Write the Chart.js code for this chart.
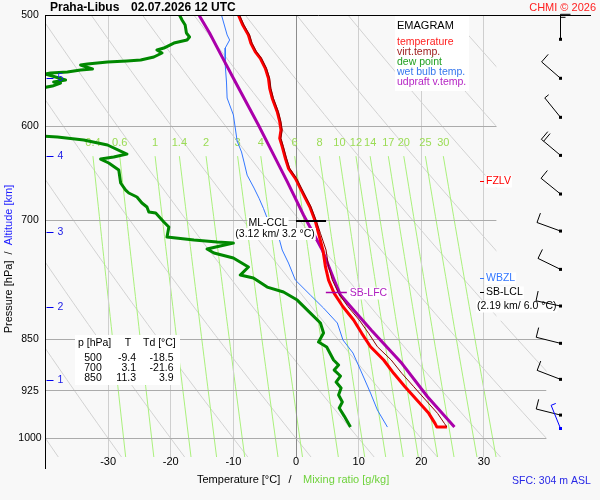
<!DOCTYPE html>
<html>
<head>
<meta charset="utf-8">
<script src="https://cdn.jsdelivr.net/npm/chart.js@4"></script>
<style>
html, body { margin: 0; padding: 0; background: #f8f8f8; }
canvas { display: block; }
</style>
</head>
<body>
<canvas id="emagram" width="600" height="500"></canvas>
<script>
/* sounding Praha-Libus 02.07.2026 12 UTC
   pressure in hPa, temperatures in degC */

// temperature and virtual temperature share the pressure levels
const tempP = [500, 508.3, 516.6, 523.7, 531, 536.7, 545.6, 554.6, 563.8, 573, 585.8, 595.4, 603.6, 611.8, 620.3, 632.2, 642.7, 653.3, 664.1, 675, 684.4, 693.7, 701.4, 714.8, 734.7, 755, 771.7, 788.7, 806.2, 823.9, 842, 860.7, 879.6, 899, 918.9, 939.2, 959.9, 975.8, 981.7];
const tempT = [-9.2, -8.5, -7.6, -7.2, -6.5, -5.7, -4.9, -4.4, -4.2, -3.8, -3.0, -2.6, -2.4, -2.6, -2.2, -1.7, -1.2, -0.1, 0.7, 1.5, 2.2, 2.7, 3.1, 3.6, 4.3, 4.7, 5.2, 6.1, 7.5, 9.2, 10.5, 11.9, 14.0, 15.6, 17.4, 19.3, 21.2, 22.2, 22.5];
const virtT = [-9.0, -8.3, -7.4, -7.0, -6.3, -5.5, -4.7, -4.2, -4.0, -3.6, -2.8, -2.4, -2.2, -2.4, -2.0, -1.5, -1.0, 0.1, 0.9, 1.7, 2.4, 2.9, 3.3, 3.9, 4.8, 5.2, 5.8, 6.8, 8.3, 10.1, 11.6, 13.0, 15.2, 16.9, 18.8, 20.7, 22.6, 23.7, 24.1];

// dew point (goes below -40 between ~565 and ~605 hPa)
const dewP = [500, 504.1, 508.3, 515.0, 518.3, 520.9, 523.5, 527.8, 529.5, 532.1, 535.6, 538.2, 539.1, 540.0, 541.8, 542.7, 546.2, 547.1, 548.9, 549.8, 550.7, 556.1, 558.0, 558.9, 561.7, 570.0, 603.6, 609.6, 610.6, 613.6, 618.6, 627.8, 630.9, 633.0, 637.1, 644.5, 658.3, 666.0, 669.2, 673.6, 680.2, 684.7, 690.4, 691.5, 701.7, 707.5, 719.2, 722.7, 725.1, 726.3, 729.8, 733.5, 738.3, 744.4, 755.4, 765.4, 769.2, 780.6, 787.0, 797.4, 814.6, 827.9, 841.6, 854.1, 861.1, 879.6, 886.9, 894.2, 903.0, 911.9, 920.9, 931.6, 942.3, 951.6, 964.2, 981.7];
const dewT = [-18.6, -18.2, -17.7, -17.5, -17.0, -17.4, -19.5, -21.1, -22.2, -21.4, -22.7, -24.8, -27.0, -30.1, -33.3, -34.4, -32.5, -34.4, -36.5, -39.2, -40.0, -36.8, -38.7, -37.6, -38.9, -47, -47, -41, -38.1, -33.9, -30.1, -27.0, -29.1, -31.2, -29.9, -28.3, -28.0, -27.2, -26.7, -25.4, -24.6, -23.8, -23.5, -22.4, -21.1, -20.3, -20.6, -16.3, -12.6, -10.0, -12.1, -14.2, -13.1, -10.0, -7.6, -8.9, -6.8, -4.6, -2.0, 0.2, 2.3, 3.9, 4.4, 3.6, 4.9, 6.0, 6.8, 6.1, 7.1, 6.4, 7.2, 6.8, 7.4, 6.9, 7.7, 8.7];

// wet bulb temperature
const wetP = [500, 516.6, 520.9, 527.8, 542.7, 558.0, 572.8, 588.9, 601.6, 614.6, 625.7, 636.1, 649.9, 663.8, 675.0, 686.2, 697.3, 706.5, 718.1, 734.7, 750.5, 771.7, 790.9, 807.9, 827.9, 851.3, 869.6, 894.2, 928.5, 954.7, 981.7];
const wetT = [-11.9, -11.0, -10.6, -11.3, -11.3, -11.1, -11.0, -10.0, -9.7, -9.4, -8.7, -8.3, -7.8, -6.7, -5.9, -5.2, -4.6, -3.9, -2.8, -2.2, -1.2, -0.1, 2.3, 4.4, 6.6, 7.5, 9.1, 10.3, 11.9, 13.0, 14.6];

// surface based updraft (virtual temperature)
const parcelP = [500, 515, 532.4, 557.7, 598.7, 622, 656.9, 693.7, 734.7, 771.7, 790.9, 837.5, 884.4, 934.1, 981.7];
const parcelT = [-15.5, -13.8, -12.1, -9.7, -6.0, -4.1, -1.4, 1.2, 4.2, 6.1, 7.1, 12.0, 16.9, 21.0, 25.3];

// wind: direction in deg, speed in kt
const windP = [520.3, 554.6, 591.2, 629.2, 670.3, 712.2, 758.3, 805.2, 855.9, 907.9, 962.6, 984];
const windDir = [360, 311, 321, 310, 309, 290, 296, 282, 284, 291, 284, 338];
const windSpd = [15, 10, 5, 20, 10, 10, 10, 10, 10, 10, 10, 5];

// axes / background lines
const pressTicks = [500, 600, 700, 850, 925, 1000];
const tempTicks = [-30, -20, -10, 0, 10, 20, 30];
const altKm = [1, 2, 3, 4, 5];
const altP = [908.9, 806.1, 712.9, 629.6, 554.6];
const mixRatios = [0.4, 0.6, 1, 1.4, 2, 3, 4, 6, 8, 10, 12, 14, 17, 20, 25, 30];
const thetas = [-40, -30, -20, -10, 0, 10, 20, 30, 40, 50, 60, 70, 80, 90, 100];

// levels marked on the right
const levelNames = ['FZLV', 'WBZL', 'SB-LCL'];
const levelP = [655.8, 769.5, 787];
const levelColors = ['#ff0000', '#3377ff', '#000000'];
const lclText = '(2.19 km/ 6.0 °C)';
const lfcP = 787, lfcT = 7.0;
const cclP = 701, cclT = 3.2, cclText = '(3.12 km/ 3.2 °C)';

// table
const tabP = [500, 700, 850];
const tabT = [-9.4, 3.1, 11.3];
const tabTd = [-18.5, -21.6, 3.9];

const legendNames = ['temperature', 'virt.temp.', 'dew point', 'wet bulb temp.', 'udpraft v.temp.'];
const legendColors = ['#ff2020', '#a02020', '#20a020', '#3577ee', '#b524c4'];

const FONT = '"Liberation Sans", Arial, sans-serif';
const MIX_TOP = 630;

function pts(ps, ts) {
    return ps.map((p, i) => ({x: ts[i], y: p}));
}

// temperature where saturation mixing ratio w [g/kg] is reached at p
function tdFromMix(w, p) {
    const e = w * p / (622 + w);
    const a = Math.log(e / 6.112);
    return 243.5 * a / (17.67 - a);
}
function tFromTheta(th, p) {
    return (th + 273.15) * Math.pow(p / 1000, 0.286) - 273.15;
}

function txt(ctx, s, x, y, color, size, align, bold) {
    ctx.font = (bold ? 'bold ' : '') + size + 'px ' + FONT;
    ctx.fillStyle = color;
    ctx.textAlign = align || 'left';
    ctx.textBaseline = 'middle';
    ctx.fillText(s, x, y);
}
function boxed(ctx, s, x, y, color, size, align) {
    ctx.font = size + 'px ' + FONT;
    const w = ctx.measureText(s).width;
    const x0 = align === 'center' ? x - w / 2 : (align === 'right' ? x - w : x);
    ctx.fillStyle = '#ffffff';
    ctx.fillRect(x0 - 1, y - 6, w + 2, 12);
    txt(ctx, s, x, y, color, size, align);
}
function crisp(v) { return Math.round(v - 0.5) + 0.5; }

function drawBarb(ctx, x0, y0, dir, spd, color) {
    const r = dir * Math.PI / 180;
    const ux = Math.sin(r), uy = -Math.cos(r);
    const bx = -uy, by = ux;
    const tx = x0 + ux * 25, ty = y0 + uy * 25;
    ctx.strokeStyle = color;
    ctx.lineWidth = 1;
    ctx.beginPath();
    ctx.moveTo(x0, y0);
    ctx.lineTo(tx, ty);
    let s = spd, pos = 0;
    while (s >= 10) {
        const px = tx - ux * pos, py = ty - uy * pos;
        ctx.moveTo(px, py);
        ctx.lineTo(px + bx * 10, py + by * 10);
        s -= 10;
        pos += 3;
    }
    if (s >= 5) {
        const px = tx - ux * pos, py = ty - uy * pos;
        ctx.moveTo(px, py);
        ctx.lineTo(px + bx * 5, py + by * 5);
    }
    ctx.stroke();
    ctx.fillStyle = color;
    ctx.fillRect(x0 - 1.5, y0 - 1.5, 3, 3);
}

const gridPlugin = {
    id: 'grid',
    beforeDraw(chart) {
        const ctx = chart.ctx;
        ctx.save();
        ctx.fillStyle = '#f8f8f8';
        ctx.fillRect(0, 0, chart.width, chart.height);
        ctx.restore();
    },
    beforeDatasetsDraw(chart) {
        const {ctx, chartArea: a, scales: {x, y}} = chart;
        ctx.save();
        // upper right corner is left to the wind column
        const xc = x.getPixelForValue(32), yc = y.getPixelForValue(825);
        ctx.beginPath();
        ctx.moveTo(a.left, a.top);
        ctx.lineTo(xc, a.top);
        ctx.lineTo(xc, yc);
        ctx.lineTo(a.right, yc);
        ctx.lineTo(a.right, a.bottom);
        ctx.lineTo(a.left, a.bottom);
        ctx.closePath();
        ctx.clip();

        ctx.lineWidth = 1;
        // dry adiabats
        ctx.strokeStyle = '#d2d2d2';
        thetas.forEach(th => {
            ctx.beginPath();
            for (let i = 0; i <= 40; i++) {
                const p = y.min * Math.pow(y.max / y.min, i / 40);
                const px = x.getPixelForValue(tFromTheta(th, p)), py = y.getPixelForValue(p);
                if (i === 0) ctx.moveTo(px, py); else ctx.lineTo(px, py);
            }
            ctx.stroke();
        });
        // saturation mixing ratio lines
        ctx.strokeStyle = '#aaf07c';
        mixRatios.forEach(w => {
            ctx.beginPath();
            for (let i = 0; i <= 30; i++) {
                const p = MIX_TOP * Math.pow(y.max / MIX_TOP, i / 30);
                const px = x.getPixelForValue(tdFromMix(w, p)), py = y.getPixelForValue(p);
                if (i === 0) ctx.moveTo(px, py); else ctx.lineTo(px, py);
            }
            ctx.stroke();
        });
        // isotherms
        tempTicks.forEach(t => {
            const px = crisp(x.getPixelForValue(t));
            ctx.strokeStyle = t === 0 ? '#8c8c8c' : '#cfcfcf';
            ctx.beginPath();
            ctx.moveTo(px, a.top);
            ctx.lineTo(px, a.bottom);
            ctx.stroke();
        });
        // isobars
        ctx.strokeStyle = '#ababab';
        pressTicks.slice(1).forEach(p => {
            const py = crisp(y.getPixelForValue(p));
            ctx.beginPath();
            ctx.moveTo(a.left, py);
            ctx.lineTo(a.right, py);
            ctx.stroke();
        });
        ctx.restore();

        // mixing ratio values above their lines
        const ly = y.getPixelForValue(MIX_TOP) - 13;
        mixRatios.forEach(w => {
            txt(ctx, String(w), x.getPixelForValue(tdFromMix(w, MIX_TOP)), ly, '#9bdc55', 11, 'center');
        });
    }
};

const overlayPlugin = {
    id: 'overlay',
    afterDatasetsDraw(chart) {
        const {ctx, scales: {x, y}} = chart;
        ctx.save();
        // levels on the right side
        const xr = Math.round(x.getPixelForValue(30));
        levelNames.forEach((name, i) => {
            const py = Math.round(y.getPixelForValue(levelP[i])) + 0.5;
            ctx.strokeStyle = levelColors[i];
            ctx.lineWidth = 1;
            ctx.beginPath();
            ctx.moveTo(xr - 4, py);
            ctx.lineTo(xr, py);
            ctx.stroke();
            boxed(ctx, name, xr + 2, py, levelColors[i], 10.5, 'left');
            if (name === 'SB-LCL') boxed(ctx, lclText, xr - 7, py + 14, '#000000', 10.5, 'left');
        });

        // LFC
        const fy = Math.round(y.getPixelForValue(lfcP)) + 0.5, fx = x.getPixelForValue(lfcT);
        ctx.strokeStyle = '#aa00aa';
        ctx.lineWidth = 1.5;
        ctx.beginPath();
        ctx.moveTo(fx - 14, fy);
        ctx.lineTo(fx + 7, fy);
        ctx.stroke();
        boxed(ctx, 'SB-LFC', fx + 10, fy + 1, '#b020c0', 10.5, 'left');

        // CCL
        const cy = Math.round(y.getPixelForValue(cclP)), cx = x.getPixelForValue(cclT);
        boxed(ctx, 'ML-CCL', cx - 48, cy + 2, '#000000', 10.5, 'center');
        boxed(ctx, cclText, cx - 41, cy + 13, '#000000', 10.5, 'center');
        ctx.strokeStyle = '#000000';
        ctx.lineWidth = 2;
        ctx.beginPath();
        ctx.moveTo(cx - 20, cy);
        ctx.lineTo(cx + 10, cy);
        ctx.stroke();

        // legend
        ctx.fillStyle = '#ffffff';
        ctx.fillRect(395, 16, 74, 75);
        txt(ctx, 'EMAGRAM', 397, 26, '#000000', 11);
        legendNames.forEach((n, i) => txt(ctx, n, 397, 42 + i * 10, legendColors[i], 10.5));

        // table
        ctx.fillStyle = '#ffffff';
        ctx.fillRect(75, 335, 105, 50);
        txt(ctx, 'p [hPa]', 78, 343.5, '#000000', 10.5);
        txt(ctx, 'T', 128, 343.5, '#000000', 10.5, 'center');
        txt(ctx, 'Td [°C]', 143, 343.5, '#000000', 10.5);
        tabP.forEach((p, i) => {
            const ry = 358.5 + i * 10;
            txt(ctx, String(p), 93, ry, '#000000', 10.5, 'center');
            txt(ctx, tabT[i].toFixed(1), 136, ry, '#000000', 10.5, 'right');
            txt(ctx, tabTd[i].toFixed(1), 173.5, ry, '#000000', 10.5, 'right');
        });
        ctx.restore();
    },
    afterDraw(chart) {
        const {ctx, chartArea: a, scales: {x, y}} = chart;
        ctx.save();
        // frame: top and left only
        ctx.strokeStyle = '#000000';
        ctx.lineWidth = 1;
        ctx.beginPath();
        ctx.moveTo(a.left, a.top + 0.5);
        ctx.lineTo(591, a.top + 0.5);
        ctx.moveTo(crisp(a.left), a.top);
        ctx.lineTo(crisp(a.left), a.bottom + 12);
        ctx.stroke();

        pressTicks.forEach(p => txt(ctx, String(p), 30, y.getPixelForValue(p), '#000000', 10.5, 'center'));
        tempTicks.forEach(t => txt(ctx, String(t), x.getPixelForValue(t), a.bottom + 5, '#000000', 11, 'center'));

        // altitude marks
        ctx.strokeStyle = '#0000ee';
        altKm.forEach((km, i) => {
            const py = Math.round(y.getPixelForValue(altP[i])) + 0.5;
            ctx.beginPath();
            ctx.moveTo(a.left + 1, py);
            ctx.lineTo(a.left + 8, py);
            ctx.stroke();
            txt(ctx, String(km), a.left + 12, py, '#1a1ae6', 10.5, 'left');
        });

        // titles
        txt(ctx, 'Praha-Libus', 50, 7.5, '#000000', 12, 'left', true);
        txt(ctx, '02.07.2026 12 UTC', 131, 7.5, '#000000', 12, 'left', true);
        txt(ctx, 'CHMI © 2026', 596, 7.5, '#ff2020', 11, 'right');
        txt(ctx, 'Temperature [°C]', 197, 479.5, '#000000', 11, 'left');
        txt(ctx, '/', 290, 479.5, '#000000', 11, 'center');
        txt(ctx, 'Mixing ratio [g/kg]', 303, 479.5, '#6fd23c', 11, 'left');
        txt(ctx, 'SFC: 304 m ASL', 512, 481.5, '#2828e6', 10.5, 'left');

        ctx.save();
        ctx.translate(9, 259);
        ctx.rotate(-Math.PI / 2);
        ctx.font = '11px ' + FONT;
        const s1 = 'Pressure [hPa]  /  ', s2 = 'Altitude [km]';
        const w1 = ctx.measureText(s1).width, w2 = ctx.measureText(s2).width;
        const x0 = -(w1 + w2) / 2;
        txt(ctx, s1, x0, 0, '#000000', 11, 'left');
        txt(ctx, s2, x0 + w1, 0, '#1a1aff', 11, 'left');
        ctx.restore();

        // wind barbs
        const bx = a.right + 14;
        windP.forEach((p, i) => {
            const color = i === windP.length - 1 ? '#0000ff' : '#000000';
            drawBarb(ctx, bx, y.getPixelForValue(p), windDir[i], windSpd[i], color);
        });
        ctx.restore();
    }
};

const lineDefaults = {showLine: true, pointRadius: 0, pointHoverRadius: 0, tension: 0, fill: false, borderJoinStyle: 'round'};

const chart = new Chart(document.getElementById('emagram'), {
    type: 'scatter',
    data: {
        datasets: [
            {label: 'virt.temp.', data: pts(tempP, virtT), borderColor: '#8b0000', borderWidth: 1},
            {label: 'temperature',
             data: pts(tempP, tempT).concat([{x: virtT[virtT.length - 1], y: tempP[tempP.length - 1]}]),
             borderColor: '#ff0000', borderWidth: 3},
            {label: 'udpraft v.temp.', data: pts(parcelP, parcelT), borderColor: '#aa00aa', borderWidth: 3},
            {label: 'wet bulb temp.', data: pts(wetP, wetT), borderColor: '#3377ff', borderWidth: 1},
            {label: 'dew point', data: pts(dewP, dewT), borderColor: '#008800', borderWidth: 3},
        ].map(d => Object.assign({}, lineDefaults, d))
    },
    options: {
        responsive: false,
        animation: false,
        devicePixelRatio: 1,
        events: [],
        layout: {padding: {left: 45.5, right: 53.5, top: 15, bottom: 43}},
        scales: {
            x: {type: 'linear', min: -40, max: 40, display: false},
            y: {type: 'logarithmic', reverse: true, min: 500, max: 1031, display: false}
        },
        plugins: {
            legend: {display: false},
            tooltip: {enabled: false}
        }
    },
    plugins: [gridPlugin, overlayPlugin]
});
</script>
</body>
</html>
